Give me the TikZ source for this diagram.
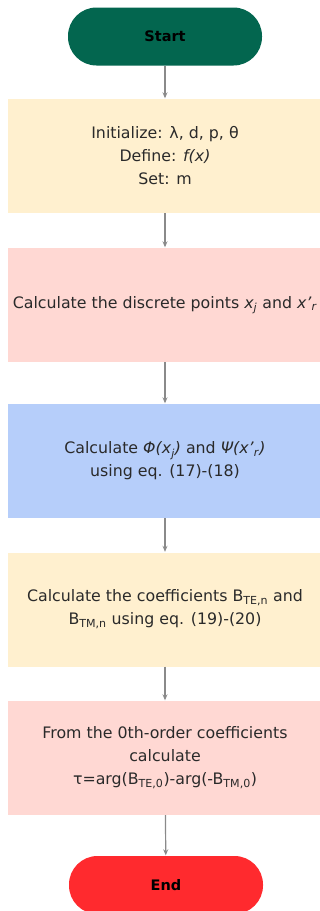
\documentclass[tikz,border=0pt]{standalone}
\usepackage{fontspec}
\setmainfont{DejaVu Sans}
\usetikzlibrary{arrows.meta, positioning}
\definecolor{startgreen}{HTML}{03664F}
\definecolor{endred}{HTML}{FF2A2E}
\definecolor{boxcream}{HTML}{FFF0CF}
\definecolor{boxpink}{HTML}{FFD8D3}
\definecolor{boxblue}{HTML}{B6CEFA}
\definecolor{arrowgrey}{HTML}{8A8A8A}
\definecolor{textgrey}{HTML}{2A2A2A}

\tikzset{
  terminal/.style={rectangle, rounded corners=28.5pt, minimum width=194pt, minimum height=58pt,
    inner sep=0pt, font=\fontsize{14.5}{20}\selectfont\bfseries},
  process/.style={rectangle, minimum width=314pt, minimum height=114pt, inner sep=0pt,
    align=center, text=textgrey, font=\fontsize{15.8}{23}\selectfont},
  flow/.style={-{Stealth[length=6pt, width=5pt]}, draw=arrowgrey, line width=1.2pt, shorten >=0.5pt}
}

\begin{document}
\begin{tikzpicture}[x=1pt, y=1pt]
  \useasboundingbox (0,0) rectangle (320,-911);

  \node[terminal, fill=startgreen] (start) at (165,-36.5) {Start};
  \node[process, fill=boxcream] (init) at (165,-156) {Initialize: λ, d, p, θ\\ Define: \textit{f(x)}\\ Set: m};
  \node[process, fill=boxpink] (points) at (165,-305)
    {Calculate the discrete points \textit{x}\textsubscript{\textit{j}} and \textit{x’}\textsubscript{\textit{r}}};
  \node[process, fill=boxblue] (basis) at (165,-461)
    {Calculate \textit{Φ(x}\textsubscript{\textit{j}}\textit{)} and \textit{Ψ(x’}\textsubscript{\textit{r}}\textit{)}\\ using eq. (17)-(18)};
  \node[process, fill=boxcream] (coeffs) at (165,-609.5)
    {Calculate the coefficients B\textsubscript{TE,n} and\\ B\textsubscript{TM,n} using eq. (19)-(20)};
  \node[process, fill=boxpink] (tau) at (165,-758)
    {From the 0th-order coefficients\\ calculate\\ τ=arg(B\textsubscript{TE,0})-arg(-B\textsubscript{TM,0})};
  \node[terminal, fill=endred] (end) at (166,-885) {End};

  \draw[flow] (start) -- (init);
  \draw[flow] (init) -- (points);
  \draw[flow] (points) -- (basis);
  \draw[flow] (basis) -- (coeffs);
  \draw[flow] (coeffs) -- (tau);
  \draw[flow] (tau) -- (end);
\end{tikzpicture}
\end{document}
